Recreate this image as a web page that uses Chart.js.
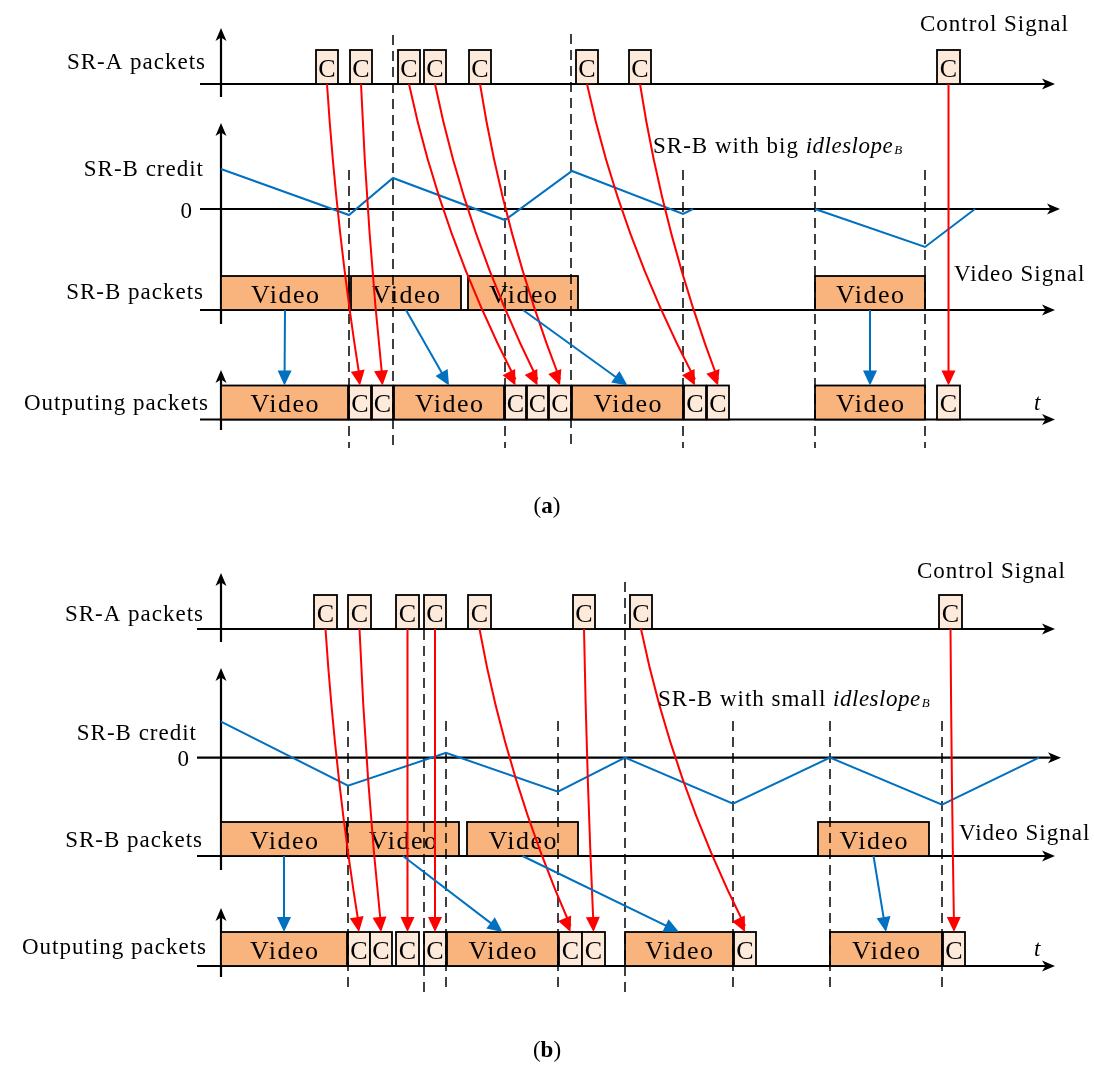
<!DOCTYPE html>
<html><head><meta charset="utf-8">
<script src="https://cdn.jsdelivr.net/npm/chart.js@4.4.1/dist/chart.umd.min.js"></script>
<style>html,body{margin:0;padding:0;background:#fff;}#wrap{width:1094px;height:1066px;}canvas{display:block;}</style>
</head><body><div id="wrap"><canvas id="c" width="1094" height="1066"></canvas></div>
<script>
// ================= DATA (time in arbitrary units, credit in arbitrary units) =================
const rowLabels = ['SR-A packets', 'SR-B credit', 'SR-B packets', 'Outputing packets'];
const panelLetters = ['a', 'b'];
const zeroLabel = '0';
const timeLabel = 't';
const controlLabel = 'Control Signal';
const videoLabel = 'Video Signal';
const captionPrefix = ['SR-B with big ', 'SR-B with small '];
const captionItalic = 'idleslope';
const captionSub = 'B';
const ctrlName = 'C';
const videoName = 'Video';

// Panel (a): packets as [start, end] times
const srA_a = [[9.5,11.7],[12.9,15.1],[17.7,19.9],[20.3,22.5],[24.8,27.0],[35.5,37.7],[40.8,43.0],[71.6,73.9]];
const srB_a = [[0,12.8],[13.0,24.0],[24.7,35.7],[59.4,70.4]];
const outVideo_a = [[0,12.7],[17.3,28.3],[35.1,46.2],[59.4,70.4]];
const outCtrl_a = [[12.8,15.0],[15.1,17.2],[28.4,30.5],[30.6,32.7],[32.8,35.0],[46.3,48.5],[48.6,50.8],[71.6,73.9]];
const creditT_a = [0, 12.8, 17.2, 28.4, 35.1, 46.2, 47.2, 53, 59.4, 70.4, 75.4];
const creditV_a = [4.0, -0.6, 3.1, -1.1, 3.8, -0.5, 0, null, 0, -3.8, 0];
const syncLong_a = [17.2, 35.0];
const syncShort_a = [12.8, 28.4, 46.2, 59.4, 70.4];
const ctrlMap_a = [0,1,2,3,4,5,6,7];   // SR-A packet i -> output control packet
const videoMap_a = [0,1,2,3];          // SR-B packet i -> output video packet

// Panel (b)
const srA_b = [[9.3,11.6],[12.7,15.0],[17.5,19.8],[20.3,22.5],[24.7,27.0],[35.2,37.4],[40.9,43.1],[71.8,74.1]];
const srB_b = [[0,12.6],[12.6,23.8],[24.6,35.7],[59.7,70.8]];
const outVideo_b = [[0,12.6],[22.6,33.7],[40.4,51.2],[60.9,72.1]];
const outCtrl_b = [[12.7,14.9],[14.9,17.1],[17.5,19.8],[20.3,22.5],[33.8,36.1],[36.1,38.4],[51.3,53.5],[72.2,74.4]];
const creditT_b = [0, 12.7, 22.5, 33.7, 40.4, 51.2, 60.9, 72.1, 81.8];
const creditV_b = [3.6, -2.8, 0.5, -3.4, 0, -4.6, 0, -4.7, 0];
const syncLong_b = [20.3, 40.4];
const syncShort_b = [12.7, 22.5, 33.7, 51.2, 60.9, 72.1];
const ctrlMap_b = [0,1,2,3,4,5,6,7];
const videoMap_b = [0,1,2,3];

// ================= LAYOUT & STYLE =================
const STYLE = {
  font: '"Liberation Serif", "Times New Roman", serif',
  labelSize: 23, boxTextSize: 26, titleSize: 23, subSize: 13,
  ctrlFill: '#FDEADB', videoFill: '#F9B47E', ink: '#000000',
  red: '#FF0000', blue: '#0070C0',
  axisW: 2.2, boxW: 1.8, dash: [10, 6], dashW: 1.5, arrowW: 2,
  boxH: 34, boxTextLift: 7.5, curveA: 0.3, curveB: 0.5
};
// vertical positions (layout scale 'y' is in page pixels), horizontal extents in time units
const LAYOUT = [
  { srA: 84, srAAxis: [28, 97], creditZero: 209, creditAxis: [123, 324], srB: 310, out: 419.5, outAxis: [370, 430],
    lineStart: -2.1, arrowEnd: 83.4, creditEnd: 83.9,
    longTop: [35, 34], shortTop: 170, dashBottom: 448,
    labelRight: [206, 204, 204, 209], labelBase: [68.5, 176, 298.5, 410],
    zeroXY: [192, 218], controlXY: [920, 30.5], captionXY: [653, 153], videoSigXY: [954, 281],
    tXY: [1034, 410], titleXY: [547, 513] },
  { srA: 629, srAAxis: [573, 642], creditZero: 757.7, creditAxis: [668, 870], srB: 856, out: 966, outAxis: [908, 977],
    lineStart: -2.4, arrowEnd: 83.4, creditEnd: 84.0,
    longTop: [630, 582], shortTop: 721, dashBottom: 993,
    labelRight: [204, 197, 203, 207], labelBase: [621, 740, 846.5, 953.5],
    zeroXY: [189, 766], controlXY: [917, 578], captionXY: [658, 705.5], videoSigXY: [959, 840],
    tXY: [1034, 955.5], titleXY: [547, 1057] }
];
const PANELS = [
  { srA: srA_a, srB: srB_a, outV: outVideo_a, outC: outCtrl_a, ctrlMap: ctrlMap_a, videoMap: videoMap_a,
    syncLong: syncLong_a, syncShort: syncShort_a },
  { srA: srA_b, srB: srB_b, outV: outVideo_b, outC: outCtrl_b, ctrlMap: ctrlMap_b, videoMap: videoMap_b,
    syncLong: syncLong_b, syncShort: syncShort_b }
];

// ================= DRAWING HELPERS =================
function PX(chart, t) { return chart.scales.x.getPixelForValue(t); }
function PY(chart, v) { return chart.scales.y.getPixelForValue(v); }
function setFont(ctx, size, extra) { ctx.font = (extra ? extra + ' ' : '') + size + 'px ' + STYLE.font; }
function spacing(ctx, v) { try { ctx.letterSpacing = v; } catch (e) {} }

function head(ctx, tx, ty, dx, dy, len, half, notch, color) {
  const L = Math.hypot(dx, dy) || 1, ux = dx / L, uy = dy / L, nx = -uy, ny = ux;
  ctx.beginPath();
  ctx.moveTo(tx, ty);
  ctx.lineTo(tx - ux * len + nx * half, ty - uy * len + ny * half);
  ctx.lineTo(tx - ux * (len - notch), ty - uy * (len - notch));
  ctx.lineTo(tx - ux * len - nx * half, ty - uy * len - ny * half);
  ctx.closePath();
  ctx.fillStyle = color; ctx.fill();
}
function seg(ctx, x1, y1, x2, y2) { ctx.beginPath(); ctx.moveTo(x1, y1); ctx.lineTo(x2, y2); ctx.stroke(); }

function drawAxes(chart, L) {
  const ctx = chart.ctx, x0 = PX(chart, 0);
  ctx.strokeStyle = STYLE.ink; ctx.lineWidth = STYLE.axisW; ctx.setLineDash([]);
  const vAxis = (bot, tip) => { seg(ctx, x0, PY(chart, bot), x0, PY(chart, tip) + 8); head(ctx, x0, PY(chart, tip), 0, -1, 13, 5.5, 3.5, STYLE.ink); };
  const hAxis = (y, endT) => { const xe = PX(chart, endT); seg(ctx, PX(chart, L.lineStart), PY(chart, y), xe - 8, PY(chart, y)); head(ctx, xe, PY(chart, y), 1, 0, 13, 5.5, 3.5, STYLE.ink); };
  vAxis(L.srAAxis[1], L.srAAxis[0]);
  hAxis(L.srA, L.arrowEnd);
  vAxis(L.creditAxis[1], L.creditAxis[0]);
  hAxis(L.creditZero, L.creditEnd);
  hAxis(L.srB, L.arrowEnd);
  vAxis(L.outAxis[1], L.outAxis[0]);
  hAxis(L.out, L.arrowEnd);
}

function drawBoxes(chart, list, baseY, fill, label) {
  const ctx = chart.ctx, yb = PY(chart, baseY), h = STYLE.boxH;
  list.forEach(([a, b]) => {
    const x1 = PX(chart, a), x2 = PX(chart, b);
    ctx.fillStyle = fill; ctx.fillRect(x1, yb - h, x2 - x1, h);
    ctx.strokeStyle = STYLE.ink; ctx.lineWidth = STYLE.boxW; ctx.setLineDash([]);
    ctx.strokeRect(x1, yb - h, x2 - x1, h);
  });
  const wide = label.length > 1;
  setFont(ctx, STYLE.boxTextSize); spacing(ctx, wide ? '1.5px' : '0px');
  ctx.fillStyle = STYLE.ink; ctx.textAlign = 'center'; ctx.textBaseline = 'alphabetic';
  list.forEach(([a, b]) => {
    ctx.fillText(label, (PX(chart, a) + PX(chart, b)) / 2 + (wide ? 0.75 : 0), yb - STYLE.boxTextLift);
  });
  spacing(ctx, '0px');
}

function drawDashes(chart, P, L) {
  const ctx = chart.ctx;
  ctx.strokeStyle = STYLE.ink; ctx.lineWidth = STYLE.dashW; ctx.setLineDash(STYLE.dash);
  P.syncLong.forEach((t, i) => { const x = PX(chart, t); seg(ctx, x, PY(chart, L.longTop[i]), x, PY(chart, L.dashBottom)); });
  P.syncShort.forEach(t => { const x = PX(chart, t); seg(ctx, x, PY(chart, L.shortTop), x, PY(chart, L.dashBottom)); });
  ctx.setLineDash([]);
}

function drawArrows(chart, P, L) {
  const ctx = chart.ctx, h = STYLE.boxH;
  ctx.lineWidth = STYLE.arrowW; ctx.setLineDash([]);
  // control packets: SR-A -> output (red, slightly curved)
  P.ctrlMap.forEach((j, i) => {
    const s = P.srA[i], e = P.outC[j];
    const sx = PX(chart, (s[0] + s[1]) / 2), sy = PY(chart, L.srA);
    const ex = PX(chart, (e[0] + e[1]) / 2), ey = PY(chart, L.out) - h;
    const cx = sx + STYLE.curveA * (ex - sx), cy = sy + STYLE.curveB * (ey - sy);
    ctx.strokeStyle = STYLE.red;
    ctx.beginPath(); ctx.moveTo(sx, sy); ctx.quadraticCurveTo(cx, cy, ex, ey - 6); ctx.stroke();
    head(ctx, ex, ey, ex - cx, ey - cy, 15, 7, 0, STYLE.red);
  });
  // video packets: SR-B -> output (blue, straight)
  P.videoMap.forEach((j, i) => {
    const s = P.srB[i], e = P.outV[j];
    const sx = PX(chart, (s[0] + s[1]) / 2), sy = PY(chart, L.srB);
    const ex = PX(chart, (e[0] + e[1]) / 2), ey = PY(chart, L.out) - h;
    const d = Math.hypot(ex - sx, ey - sy);
    ctx.strokeStyle = STYLE.blue;
    seg(ctx, sx, sy, ex - (ex - sx) * 6 / d, ey - (ey - sy) * 6 / d);
    head(ctx, ex, ey, ex - sx, ey - sy, 15, 7, 0, STYLE.blue);
  });
}

function drawLabels(chart, pi, L) {
  const ctx = chart.ctx;
  ctx.fillStyle = STYLE.ink; ctx.textBaseline = 'alphabetic';
  setFont(ctx, STYLE.labelSize); spacing(ctx, '1px');
  ctx.textAlign = 'right';
  rowLabels.forEach((s, k) => ctx.fillText(s, L.labelRight[k], L.labelBase[k]));
  spacing(ctx, '0px');
  ctx.fillText(zeroLabel, L.zeroXY[0], L.zeroXY[1]);
  spacing(ctx, '1px');
  ctx.textAlign = 'left';
  ctx.fillText(controlLabel, L.controlXY[0], L.controlXY[1]);
  ctx.fillText(videoLabel, L.videoSigXY[0], L.videoSigXY[1]);
  let x = L.captionXY[0]; const y = L.captionXY[1];
  ctx.fillText(captionPrefix[pi], x, y); x += ctx.measureText(captionPrefix[pi]).width;
  setFont(ctx, STYLE.labelSize, 'italic'); spacing(ctx, '0.5px');
  ctx.fillText(captionItalic, x, y); x += ctx.measureText(captionItalic).width;
  setFont(ctx, STYLE.subSize, 'italic'); spacing(ctx, '0px');
  ctx.fillText(captionSub, x + 1, y + 1);
  setFont(ctx, STYLE.labelSize, 'italic');
  ctx.fillText(timeLabel, L.tXY[0], L.tXY[1]);
  setFont(ctx, STYLE.titleSize);
  const wL = ctx.measureText('(').width, wR = ctx.measureText(')').width;
  setFont(ctx, STYLE.titleSize, 'bold');
  const wM = ctx.measureText(panelLetters[pi]).width;
  let tx = L.titleXY[0] - (wL + wM + wR) / 2;
  setFont(ctx, STYLE.titleSize); ctx.fillText('(', tx, L.titleXY[1]); tx += wL;
  setFont(ctx, STYLE.titleSize, 'bold'); ctx.fillText(panelLetters[pi], tx, L.titleXY[1]); tx += wM;
  setFont(ctx, STYLE.titleSize); ctx.fillText(')', tx, L.titleXY[1]);
}

const diagram = {
  id: 'diagram',
  beforeDatasetsDraw(chart) {
    const ctx = chart.ctx; ctx.save();
    PANELS.forEach((P, pi) => {
      const L = LAYOUT[pi];
      drawAxes(chart, L);
      drawBoxes(chart, P.srA, L.srA, STYLE.ctrlFill, ctrlName);
      drawBoxes(chart, P.srB, L.srB, STYLE.videoFill, videoName);
      drawBoxes(chart, P.outV, L.out, STYLE.videoFill, videoName);
      drawBoxes(chart, P.outC, L.out, STYLE.ctrlFill, ctrlName);
      drawDashes(chart, P, L);
    });
    ctx.restore();
  },
  afterDatasetsDraw(chart) {
    const ctx = chart.ctx; ctx.save();
    PANELS.forEach((P, pi) => { drawArrows(chart, P, LAYOUT[pi]); drawLabels(chart, pi, LAYOUT[pi]); });
    ctx.restore();
  }
};

const toPoints = (ts, vs) => ts.map((t, i) => ({ x: t, y: vs[i] }));

new Chart(document.getElementById('c'), {
  type: 'scatter',
  data: {
    datasets: [
      { label: 'SR-B credit (a)', data: toPoints(creditT_a, creditV_a), yAxisID: 'yCa', showLine: true,
        borderColor: STYLE.blue, borderWidth: 2, pointRadius: 0, tension: 0, spanGaps: false },
      { label: 'SR-B credit (b)', data: toPoints(creditT_b, creditV_b), yAxisID: 'yCb', showLine: true,
        borderColor: STYLE.blue, borderWidth: 2, pointRadius: 0, tension: 0, spanGaps: false }
    ]
  },
  options: {
    responsive: false, animation: false, devicePixelRatio: 1,
    layout: { padding: 0 },
    plugins: { legend: { display: false }, tooltip: { enabled: false } },
    scales: {
      x: { type: 'linear', min: -22.1, max: 87.3, display: false },
      y: { type: 'linear', min: 0, max: 1066, reverse: true, display: false },
      yCa: { type: 'linear', min: -85.7, max: 20.9, display: false },
      yCb: { type: 'linear', min: -30.83, max: 75.77, display: false }
    }
  },
  plugins: [diagram]
});
</script></body></html>
